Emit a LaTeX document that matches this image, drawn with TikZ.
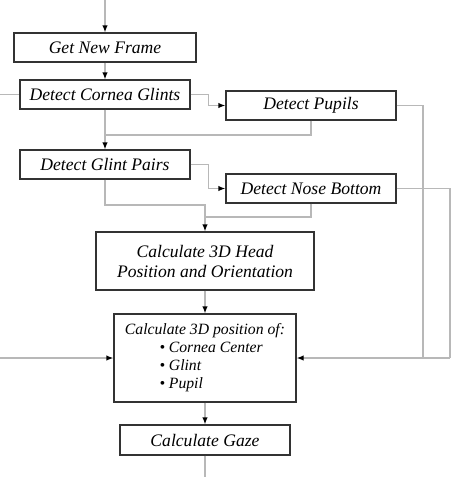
\documentclass[tikz,border=0pt]{standalone}
\usepackage{fontspec}
\setmainfont{Liberation Serif}
\usetikzlibrary{arrows.meta}
\begin{document}
\begin{tikzpicture}[x=1pt, y=-1pt]
	\tikzset{boite/.style={draw=black!80, line width=1.3pt, fill=white, inner sep=0pt, minimum height=29, font=\fontsize{17.6}{20}\selectfont\itshape}, fleche/.style={>={Latex[length=7pt, width=5.5pt, color=black]}, ->}, liaison/.style={draw=black!28, line width=1.3pt}};
	\useasboundingbox (0,0) rectangle (474,477);

	\node[boite, minimum width=182] (image)    at (105,  47.5) {Get New Frame};
	\node[boite, minimum width=170] (reflets)  at (105,  94.5) {Detect Cornea Glints};
	\node[boite, minimum width=170] (pupilles) at (311, 105.5) {Detect Pupils};
	\node[boite, minimum width=170] (paires)   at (105, 164.5) {Detect Glint Pairs};
	\node[boite, minimum width=170] (nez)      at (311, 188.5) {Detect Nose Bottom};
	\node[boite, minimum width=218, minimum height=58, align=center] (tete) at (205, 261) {Calculate 3D Head\\Position and Orientation};
	\node[boite, minimum width=182, minimum height=88, align=left, font=\fontsize{15.7}{18}\selectfont\itshape] (position) at (205, 358)
		{Calculate 3D position of:\\\hspace{2.2em}\textbullet\ Cornea Center\\\hspace{2.2em}\textbullet\ Glint\\\hspace{2.2em}\textbullet\ Pupil};
	\node[boite, minimum width=170, minimum height=30] (regard) at (205, 440) {Calculate Gaze};

	\coordinate (haut)    at (105,   0);
	\coordinate (gauche1) at (  0,  94.5);
	\coordinate (j1)      at (105, 135);
	\coordinate (coude)   at (205, 205);
	\coordinate (j2)      at (205, 217);
	\coordinate (j3)      at (423, 358);
	\coordinate (j4)      at (450, 358);
	\coordinate (gauche2) at (  0, 358);
	\coordinate (bas)     at (205, 477);

	\draw[liaison, fleche] (haut) -- (image);
	\draw[liaison, fleche] (image) -- (reflets);
	\draw[liaison] (gauche1) -- (reflets);
	\draw[liaison, fleche] (reflets.east) -- ++(18,0) |- (pupilles.west);
	\draw[liaison, fleche] (reflets) -- (paires);
	\draw[liaison] (pupilles.south) |- (j1);
	\draw[liaison, fleche] (paires.east) -- ++(18,0) |- (nez.west);
	\draw[liaison, fleche] (paires.south) |- (coude) -- (tete);
	\draw[liaison] (nez.south) |- (j2);
	\draw[liaison] (pupilles.east) -| (j3);
	\draw[liaison] (nez.east) -| (j4);
	\draw[liaison, fleche] (j4) -- (position);
	\draw[liaison, fleche] (gauche2) -- (position);
	\draw[liaison, fleche] (tete) -- (position);
	\draw[liaison, fleche] (position) -- (regard);
	\draw[liaison] (regard) -- (bas);
\end{tikzpicture}
\end{document}
